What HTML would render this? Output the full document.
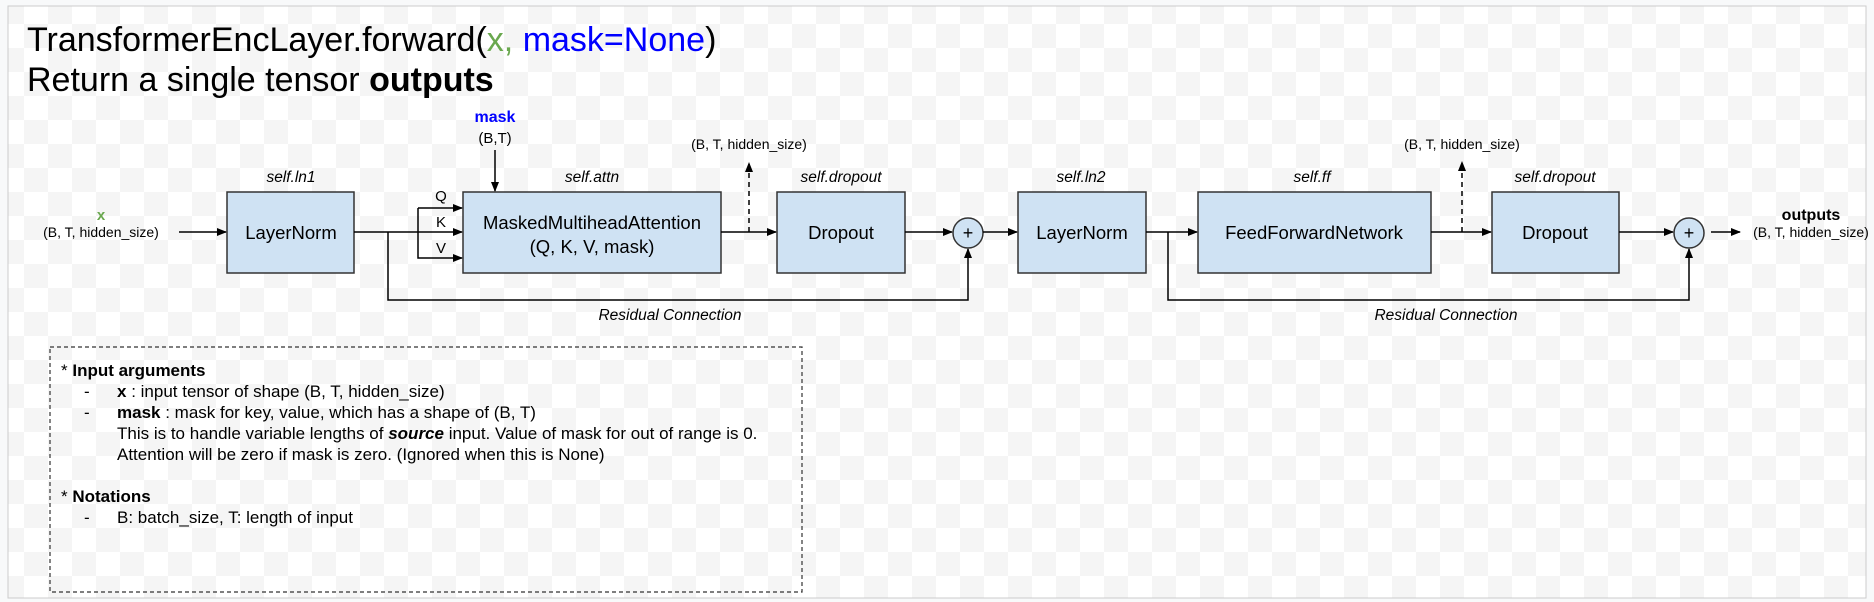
<!DOCTYPE html>
<html><head><meta charset="utf-8"><style>
html,body{margin:0;padding:0;background:#f8f9fa;}
svg{display:block;font-family:"Liberation Sans",Arial,sans-serif;}
</style></head><body>
<svg width="1874" height="602" viewBox="0 0 1874 602" xmlns="http://www.w3.org/2000/svg">
<defs>
<pattern id="ck" width="48" height="48" patternUnits="userSpaceOnUse">
<rect width="48" height="48" fill="#ffffff"/>
<rect width="24" height="24" fill="#f5f5f5"/>
<rect x="24" y="24" width="24" height="24" fill="#f5f5f5"/>
</pattern>
<marker id="a" markerWidth="10" markerHeight="8" refX="9" refY="4" orient="auto" markerUnits="userSpaceOnUse">
<path d="M0,0 L10,4 L0,8 z" fill="#000"/></marker>
</defs>
<rect x="8" y="6" width="1858" height="592" fill="url(#ck)" stroke="#ccc" stroke-width="1"/>

<text x="27" y="51" font-size="34">TransformerEncLayer.forward(<tspan fill="#6aa84f">x, </tspan><tspan fill="#0000ff">mask=None</tspan>)</text>
<text x="27" y="91" font-size="34">Return a single tensor <tspan font-weight="bold">outputs</tspan></text>

<g font-size="14" text-anchor="middle">
<text x="101" y="220" fill="#6aa84f" font-weight="bold" font-size="15">x</text>
<text x="101" y="237">(B, T, hidden_size)</text>
<text x="495" y="122" fill="#0000ff" font-weight="bold" font-size="16">mask</text>
<text x="495" y="143" font-size="15">(B,T)</text>
<text x="749" y="149">(B, T, hidden_size)</text>
<text x="1462" y="149">(B, T, hidden_size)</text>
<text x="1811" y="220" font-weight="bold" font-size="16">outputs</text>
<text x="1811" y="237">(B, T, hidden_size)</text>
</g>
<g font-size="15.5" font-style="italic" text-anchor="middle">
<text x="291" y="182">self.ln1</text>
<text x="592" y="182">self.attn</text>
<text x="841" y="182">self.dropout</text>
<text x="1081" y="182">self.ln2</text>
<text x="1312" y="182">self.ff</text>
<text x="1555" y="182">self.dropout</text>
<text x="670" y="320">Residual Connection</text>
<text x="1446" y="320">Residual Connection</text>
</g>

<g fill="#cfe2f3" stroke="#333" stroke-width="1.5">
<rect x="227" y="192" width="127" height="81"/>
<rect x="463" y="192" width="258" height="81"/>
<rect x="777" y="192" width="128" height="81"/>
<rect x="1018" y="192" width="128" height="81"/>
<rect x="1198" y="192" width="233" height="81"/>
<rect x="1492" y="192" width="127" height="81"/>
<circle cx="968" cy="233" r="15"/>
<circle cx="1689" cy="233" r="15"/>
</g>
<g font-size="18.5" text-anchor="middle">
<text x="291" y="239">LayerNorm</text>
<text x="592" y="229">MaskedMultiheadAttention</text>
<text x="592" y="253">(Q, K, V, mask)</text>
<text x="841" y="239">Dropout</text>
<text x="1082" y="239">LayerNorm</text>
<text x="1314" y="239">FeedForwardNetwork</text>
<text x="1555" y="239">Dropout</text>
<text x="968" y="239" font-size="18">+</text>
<text x="1689" y="239" font-size="18">+</text>
</g>
<g font-size="15" text-anchor="middle">
<text x="441" y="201">Q</text>
<text x="441" y="227">K</text>
<text x="441" y="253">V</text>
</g>

<g stroke="#000" stroke-width="1.5" fill="none">
<line x1="179" y1="232" x2="226" y2="232" marker-end="url(#a)"/>
<polyline points="354,232 418,232"/>
<polyline points="418,208 462,208" marker-end="url(#a)"/>
<line x1="418" y1="232" x2="462" y2="232" marker-end="url(#a)"/>
<polyline points="418,208 418,258 462,258" marker-end="url(#a)"/>
<line x1="495" y1="150" x2="495" y2="191" marker-end="url(#a)"/>
<line x1="721" y1="232" x2="776" y2="232" marker-end="url(#a)"/>
<line x1="749" y1="232" x2="749" y2="163" stroke-dasharray="5,4" marker-end="url(#a)"/>
<line x1="905" y1="232" x2="952" y2="232" marker-end="url(#a)"/>
<line x1="983" y1="232" x2="1017" y2="232" marker-end="url(#a)"/>
<polyline points="388,232 388,300 968,300 968,249" marker-end="url(#a)"/>
<line x1="1146" y1="232" x2="1197" y2="232" marker-end="url(#a)"/>
<polyline points="1168,232 1168,300 1689,300 1689,249" marker-end="url(#a)"/>
<line x1="1431" y1="232" x2="1491" y2="232" marker-end="url(#a)"/>
<line x1="1462" y1="232" x2="1462" y2="162" stroke-dasharray="5,4" marker-end="url(#a)"/>
<line x1="1619" y1="232" x2="1673" y2="232" marker-end="url(#a)"/>
<line x1="1711" y1="232" x2="1740" y2="232" marker-end="url(#a)"/>
</g>

<rect x="50" y="347" width="752" height="245" fill="none" stroke="#333" stroke-width="1.2" stroke-dasharray="4,3"/>
<g font-size="17">
<text x="61" y="376" font-weight="bold"><tspan font-weight="normal">* </tspan>Input arguments</text>
<text x="84" y="397">-</text>
<text x="117" y="397"><tspan font-weight="bold">x</tspan> : input tensor of shape (B, T, hidden_size)</text>
<text x="84" y="418">-</text>
<text x="117" y="418"><tspan font-weight="bold">mask</tspan> : mask for key, value, which has a shape of (B, T)</text>
<text x="117" y="439">This is to handle variable lengths of <tspan font-weight="bold" font-style="italic">source</tspan> input. Value of mask for out of range is 0.</text>
<text x="117" y="460">Attention will be zero if mask is zero.  (Ignored when this is None)</text>
<text x="61" y="502" font-weight="bold"><tspan font-weight="normal">* </tspan>Notations</text>
<text x="84" y="523">-</text>
<text x="117" y="523">B: batch_size,  T: length of input</text>
</g>
</svg>
</body></html>
